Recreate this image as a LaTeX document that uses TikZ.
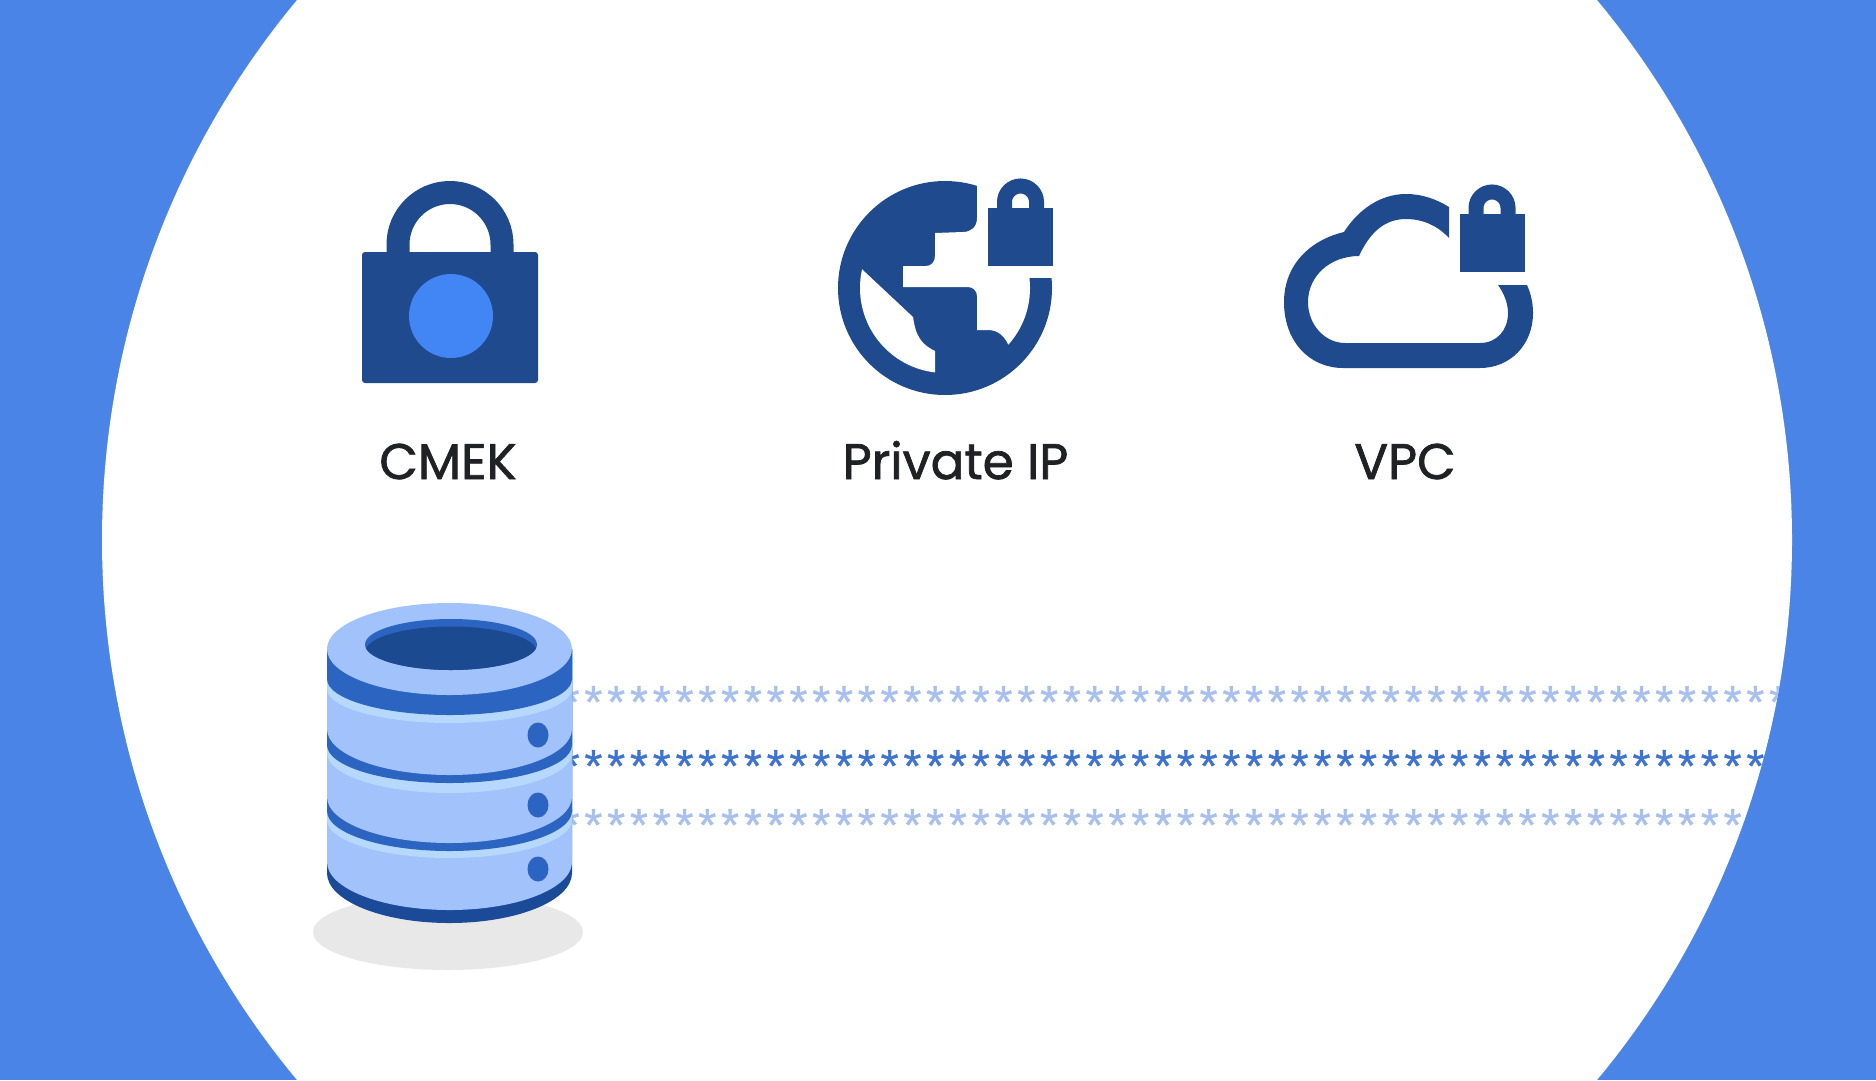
\documentclass[tikz,border=0pt]{standalone}
\usepackage{fontspec}
\setmainfont[FakeBold=1.4]{Poppins}
\newfontfamily\starfont[LetterSpace=-10.47, FakeBold=0.8]{Liberation Mono}
\definecolor{backblue}{HTML}{4A84E6}
\definecolor{iconblue}{HTML}{1F4A8E}
\definecolor{keyblue}{HTML}{4285F4}
\definecolor{dbbody}{HTML}{A1C2FA}
\definecolor{dbstripe}{HTML}{B5D8FC}
\definecolor{dbband}{HTML}{2C64C2}
\definecolor{dbnavy}{HTML}{1A4A98}
\definecolor{dbhole}{HTML}{1B4A90}
\definecolor{labelgray}{HTML}{202124}
\definecolor{starpale}{HTML}{A8C0EC}
\definecolor{stardark}{HTML}{3F73D0}
\newcommand{\starrow}{******************************************************}
\begin{document}
\begin{tikzpicture}[x=1pt, y=-1pt]
    \tikzset{icon/.style={iconblue}}
    \tikzset{caption/.style={anchor=base, text=labelgray, font=\fontsize{50}{50}\selectfont, inner sep=0pt}}
    \tikzset{stars/.style={anchor=base west, inner sep=0pt, font=\starfont\fontsize{46}{46}\selectfont}}
    \useasboundingbox (0, 0) rectangle (1876, 1080);
    \fill[backblue] (0, 0) rectangle (1876, 1080);
    \fill[white] (947, 540) circle (845pt);

    \fill[icon, rounded corners=3pt] (362, 252) rectangle (538, 383);
    \draw[iconblue, line width=23pt] (398, 256) -- (398, 244.5)
        arc[start angle=180, end angle=0, radius=52pt] -- (502, 256);
    \fill[keyblue] (451, 316) circle (42pt);
    \node[caption] (cmek) at (448, 479) {CMEK};

    \fill[icon] (945, 288) circle (107pt);
    \begin{scope}
        \clip (945, 288) circle (85pt);
        \fill[white] (850, 258) -- (913, 317) .. controls (915, 328) and (916, 342) .. (935, 351)
            -- (935, 380) -- (840, 380) -- (840, 258) -- cycle;
        \fill[white] (977, 170) -- (977, 218) .. controls (977, 227) and (971, 232) .. (963, 232)
            -- (935, 233) -- (935, 256) .. controls (935, 262) and (931, 266) .. (926, 266)
            -- (903, 266) -- (903, 287) -- (968, 287) .. controls (973, 287) and (977, 291) .. (977, 296)
            -- (977, 330) -- (988, 330) .. controls (998, 330) and (1004, 336) .. (1008, 344)
            -- (1040, 380) -- (1080, 380) -- (1080, 170) -- cycle;
    \end{scope}
    \fill[white] (977, 170) rectangle (1070, 278);
    \node[caption] (privateip) at (955.5, 479) {Private IP};

    \fill[icon] (1343, 368) .. controls (1310, 368) and (1284, 342) .. (1284, 302)
        .. controls (1284, 265) and (1310, 240) .. (1344, 232)
        .. controls (1358, 210) and (1380, 194) .. (1406, 194)
        .. controls (1422, 194) and (1436, 199) .. (1449, 207) -- (1449, 238)
        .. controls (1438, 226) and (1423, 219) .. (1406, 219)
        .. controls (1385, 219) and (1370, 232) .. (1359, 256)
        .. controls (1330, 256) and (1308, 276) .. (1308, 302)
        .. controls (1308, 325) and (1325, 343) .. (1345, 343) -- (1480, 343)
        .. controls (1497, 343) and (1508, 330) .. (1508, 313)
        .. controls (1508, 302) and (1503, 292) .. (1498, 285) -- (1527, 285)
        .. controls (1531, 294) and (1533, 303) .. (1533, 313)
        .. controls (1533, 345) and (1510, 368) .. (1480, 368) -- cycle;
    \node[caption] (vpc) at (1405, 479) {VPC};

    \foreach \lockx/\locky in {1020.5/202, 1492/208} {
        \fill[icon] (\lockx-32.5, \locky+6) rectangle (\lockx+32.5, \locky+64);
        \draw[iconblue, line width=15pt] (\lockx-16, \locky+8) -- (\lockx-16, \locky)
            arc[start angle=180, end angle=0, radius=16pt] -- (\lockx+16, \locky+8);
    }

    \begin{scope}
        \clip (947, 540) circle (845pt);
        \node[stars, text=starpale] (toprow) at (556.6, 719.4) {\starrow};
        \node[stars, text=stardark] (midrow) at (556.6, 783.4) {\starrow};
        \node[stars, text=starpale] (lowrow) at (556.6, 842.4) {\starrow};
    \end{scope}

    \fill[black!9] (448, 932) ellipse[x radius=135pt, y radius=38pt];
    \foreach \slabmid/\slabry/\slabcol in {923/50/dbnavy, 910/48/dbbody, 858/38/dbstripe, 851/40/dbband, 843/46/dbbody,
        793/40/dbstripe, 783/38/dbband, 775/46/dbbody, 723/34/dbstripe, 715/36/dbband} {
        \fill[\slabcol] (327, 649) -- (327, \slabmid-\slabry)
            arc[start angle=180, end angle=360, x radius=122.5pt, y radius=\slabry pt] -- (572, 649) -- cycle;
    }
    \fill[dbbody] (449.5, 649) ellipse[x radius=122.5pt, y radius=46pt];
    \fill[dbband] (451, 644.5) ellipse[x radius=86pt, y radius=25.5pt];
    \begin{scope}
        \clip (451, 644.5) ellipse[x radius=86pt, y radius=25.5pt];
        \fill[dbhole] (451, 652) ellipse[x radius=86pt, y radius=25.5pt];
    \end{scope}
    \foreach \doty in {735, 805, 869} {
        \fill[dbband] (538, \doty) ellipse[x radius=10.5pt, y radius=12.5pt];
    }
\end{tikzpicture}
\end{document}
